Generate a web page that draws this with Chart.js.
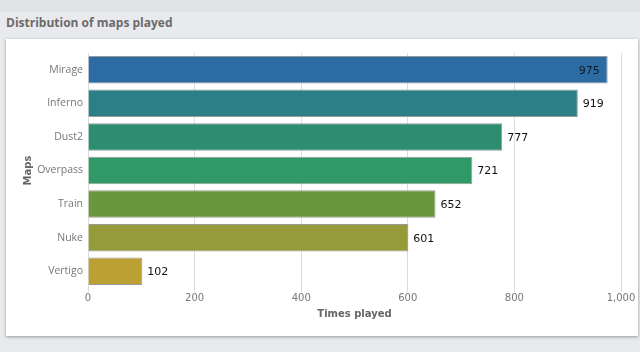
<!DOCTYPE html>
<html>
<head>
<meta charset="utf-8">
<script src="https://cdn.jsdelivr.net/npm/chart.js@4"></script>
<style>
  html, body { margin: 0; padding: 0; }
  body { width: 640px; height: 352px; background: #e9eaed; position: relative; overflow: hidden;
         font-family: "Open Sans", sans-serif; }
  .top { position: absolute; left: 0; top: 0; width: 640px; height: 12px; background: #e2e3e5; }
  h3 { position: absolute; left: 6px; top: 14px; margin: 0; font-size: 12px; font-weight: 700; color: #6b6b6b; }
  .card { position: absolute; left: 6px; top: 39px; width: 632px; height: 297px; background: #fff;
          box-shadow: 0 1px 3px rgba(0,0,0,0.35); }
</style>
</head>
<body>
<div class="top"></div>
<h3>Distribution of maps played</h3>
<div class="card"><canvas id="maps_chart"></canvas></div>
<script>
let maps = ["Mirage", "Inferno", "Dust2", "Overpass", "Train", "Nuke", "Vertigo"];
let timesPlayed = [975, 919, 777, 721, 652, 601, 102];
let barColors = ["#2d6ca2", "#2c7f86", "#2d8d70", "#2f9a67", "#6a963e", "#969a38", "#bba133"];
let xTicks = [0, 200, 400, 600, 800, 1000];

// draws the value next to each bar (inside when it won't fit)
const valueLabels = {
    id: "valueLabels",
    afterDatasetsDraw(chart) {
        const ctx = chart.ctx;
        const meta = chart.getDatasetMeta(0);
        ctx.save();
        ctx.font = "11px 'DejaVu Sans', sans-serif";
        ctx.textBaseline = "middle";
        meta.data.forEach((bar, i) => {
            const text = String(timesPlayed[i]);
            const w = ctx.measureText(text).width;
            if (bar.x + 5 + w > chart.chartArea.right) {
                ctx.textAlign = "right";
                ctx.fillStyle = "#0d1b2a";
                ctx.fillText(text, bar.x - 8, bar.y + 1);
            } else {
                ctx.textAlign = "left";
                ctx.fillStyle = "#111";
                ctx.fillText(text, bar.x + 5, bar.y + 1);
            }
        });
        ctx.restore();
    }
};

new Chart(document.querySelector("#maps_chart"), {
    type: "bar",
    data: {
        labels: maps,
        datasets: [{
            data: timesPlayed,
            backgroundColor: barColors,
            borderColor: "#9a9a9a",
            borderWidth: 1,
            barPercentage: 0.82,
            categoryPercentage: 1.0
        }]
    },
    options: {
        indexAxis: "y",
        responsive: true,
        maintainAspectRatio: false,
        animation: false,
        layout: { padding: { top: 14, right: 17, bottom: 12, left: 13 } },
        scales: {
            x: {
                min: 0,
                max: 1000,
                afterBuildTicks: (scale) => { scale.ticks = xTicks.map(v => ({ value: v })); },
                grid: { color: "#dcdcdc", tickLength: 4, drawTicks: true },
                border: { display: false },
                ticks: {
                    color: "#777",
                    font: { family: "DejaVu Sans", size: 10 },
                    padding: 0,
                    callback: (v) => v.toLocaleString("en-US")
                },
                title: {
                    display: true,
                    text: "Times played",
                    color: "#666",
                    font: { family: "DejaVu Sans", size: 10, weight: "bold" },
                    padding: { top: 4 }
                }
            },
            y: {
                afterFit: (scale) => { scale.width = 69; },
                grid: { display: false, drawTicks: false },
                border: { display: false },
                ticks: {
                    color: "#777",
                    font: { family: "Open Sans", size: 10.5 },
                    padding: 5
                },
                title: {
                    display: true,
                    text: "Maps",
                    color: "#666",
                    font: { family: "DejaVu Sans", size: 10, weight: "bold" },
                    padding: { top: 3, bottom: 0 }
                }
            }
        },
        plugins: {
            legend: { display: false },
            tooltip: { enabled: false }
        }
    },
    plugins: [valueLabels]
});
</script>
</body>
</html>
